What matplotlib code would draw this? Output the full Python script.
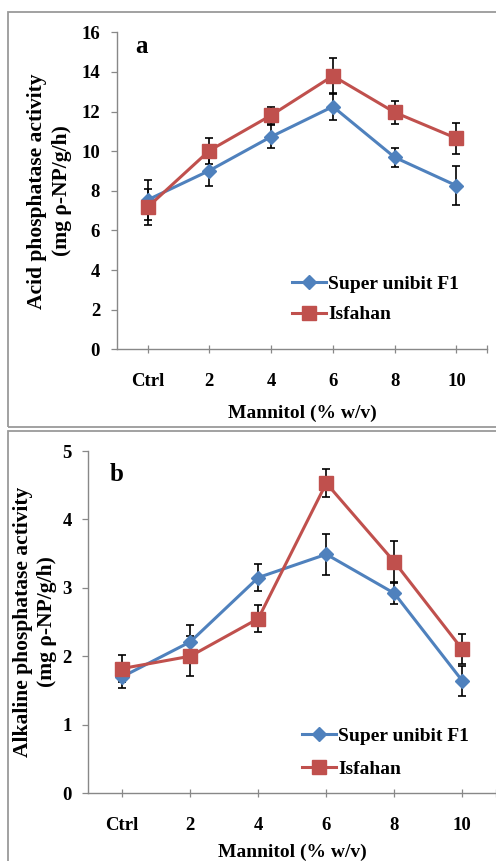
import matplotlib
matplotlib.use("Agg")
import matplotlib.pyplot as plt
from matplotlib.patches import Rectangle
import numpy as np

plt.rcParams['font.family'] = ['Liberation Serif', 'DejaVu Serif']
plt.rcParams['font.weight'] = 'bold'

# data
categories = ["Ctrl", "2", "4", "6", "8", "10"]
series_names = ["Super unibit F1", "Isfahan"]

acid_super = [7.54, 9.02, 10.73, 12.25, 9.69, 8.26]
acid_super_err = [1.0, 0.78, 0.58, 0.68, 0.47, 0.98]
acid_isfahan = [7.17, 10.03, 11.81, 13.80, 11.96, 10.65]
acid_isfahan_err = [0.9, 0.66, 0.44, 0.89, 0.57, 0.78]

alk_super = [1.70, 2.21, 3.15, 3.49, 2.92, 1.64]
alk_super_err = [0.17, 0.25, 0.20, 0.30, 0.15, 0.22]
alk_isfahan = [1.82, 2.00, 2.55, 4.53, 3.38, 2.10]
alk_isfahan_err = [0.20, 0.29, 0.20, 0.20, 0.30, 0.22]

blue = "#4F81BD"
red = "#C0504D"
grey = "#888888"

W, H = 496, 861
fig = plt.figure(figsize=(W / 100, H / 100), dpi=100)

# panel frames (pixel coords -> figure fraction)
def frame(x0, y0, x1, y1):
    fig.patches.append(Rectangle((x0 / W, 1 - y1 / H), (x1 - x0) / W, (y1 - y0) / H,
                                 transform=fig.transFigure, fill=False,
                                 edgecolor="#9a9a9a", lw=1.3))

frame(8, 12, 520, 427)
frame(8, 431, 520, 900)

ax1 = fig.add_axes([116.7 / W, 1 - 349.3 / H, 370.6 / W, 317 / H])
ax2 = fig.add_axes([88.3 / W, 1 - 793 / H, 408 / W, 342 / H])

x = np.arange(len(categories))


def panel(ax, s1, e1, s2, e2, ymax, ystep, ylabel, letter, letter_xy,
          ylab_x, xlab_y, leg_anchor, leg_spacing):
    for vals, errs in [(s1, e1), (s2, e2)]:
        ax.errorbar(x, vals, yerr=errs, fmt="none", ecolor="black",
                    elinewidth=1.2, capsize=3, capthick=1.2, zorder=2)
    for vals, col, mk, ms, name in [(s1, blue, "D", 7.5, series_names[0]),
                                    (s2, red, "s", 9.5, series_names[1])]:
        ax.plot(x, vals, color=col, lw=2.2, marker=mk, markersize=ms,
                label=name, zorder=3)

    ax.set_xlim(-0.5, 5.5)
    ax.set_ylim(0, ymax)
    ax.set_yticks(np.arange(0, ymax + 0.01, ystep))
    ax.set_xticks(list(x) + [5.5])
    ax.set_xticklabels(categories + [""])
    for side in ["top", "right"]:
        ax.spines[side].set_visible(False)
    for side in ["left", "bottom"]:
        ax.spines[side].set_color(grey)
        ax.spines[side].set_linewidth(1.0)
    ax.tick_params(axis="x", direction="inout", length=6, width=0.9,
                   color=grey, pad=14, labelsize=13.5)
    ax.tick_params(axis="y", direction="out", length=4, width=0.9,
                   color=grey, pad=8, labelsize=13.5)

    ax.set_ylabel(ylabel, fontsize=15.5, fontweight="bold", linespacing=1.3,
                  va="center", ha="center")
    ax.yaxis.set_label_coords(ylab_x, 0.5)
    ax.set_xlabel("Mannitol (% w/v)", fontsize=14, fontweight="bold",
                  va="center")
    ax.xaxis.set_label_coords(0.5, xlab_y)

    ax.text(letter_xy[0], letter_xy[1], letter, transform=ax.transAxes,
            fontsize=18, fontweight="bold", ha="center", va="center")

    ax.legend(loc="center left", bbox_to_anchor=leg_anchor, frameon=False,
              fontsize=14, handlelength=1.75, handletextpad=0.12,
              borderpad=0, borderaxespad=0, labelspacing=leg_spacing)


panel(ax1, acid_super, acid_super_err, acid_isfahan, acid_isfahan_err,
      16, 2, "Acid phosphatase activity\n(mg \u03c1-NP/g/h)", "a",
      (0.068, 0.955), -0.181, -0.201, (0.473, 0.157), 0.65)
panel(ax2, alk_super, alk_super_err, alk_isfahan, alk_isfahan_err,
      5, 1, "Alkaline phosphatase activity\n(mg \u03c1-NP/g/h)", "b",
      (0.070, 0.93), -0.131, -0.1725, (0.524, 0.118), 0.82)

fig.savefig("out.png", dpi=100)
